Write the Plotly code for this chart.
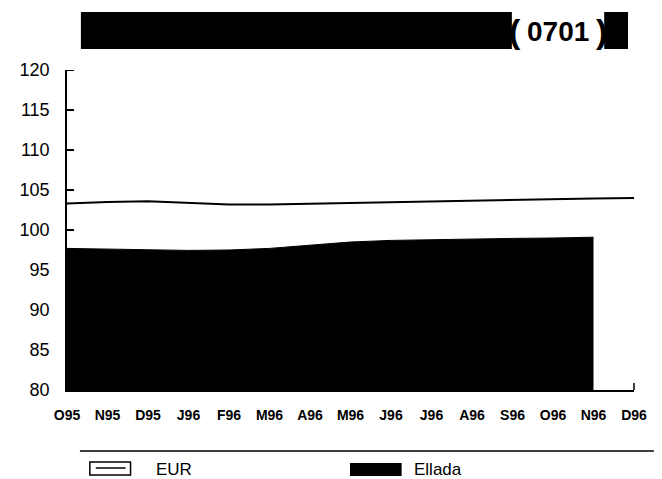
import plotly.graph_objects as go

months = ["O95", "N95", "D95", "J96", "F96", "M96", "A96", "M96",
          "J96", "J96", "A96", "S96", "O96", "N96", "D96"]
eur = [103.3, 103.5, 103.6, 103.4, 103.2, 103.2, 103.3, 103.4,
       103.5, 103.6, 103.7, 103.75, 103.85, 103.95, 104.0]
ellada = [97.7, 97.6, 97.5, 97.45, 97.5, 97.7, 98.1, 98.5,
          98.7, 98.8, 98.9, 98.95, 99.0, 99.1, None]
y_ticks = [80, 85, 90, 95, 100, 105, 110, 115, 120]
title_code = "0701"

PAGE_W, PAGE_H = 662, 479
OFF = 8  # browser body margin
W, H = PAGE_W - OFF, PAGE_H - OFF
L, R, T, B = 63, 634, 70, 390  # plot area in page pixels


def px(x):
    return (x - L) / (R - L)


def py(y):
    return (B - y) / (B - T)


xs = list(range(len(months)))

fig = go.Figure()
fig.add_trace(go.Scatter(
    x=[x for x, v in zip(xs, ellada) if v is not None],
    y=[v for v in ellada if v is not None],
    mode="lines", fill="tozeroy", fillcolor="black",
    line=dict(color="black", width=1), name="Ellada", showlegend=False))
fig.add_trace(go.Scatter(
    x=xs, y=eur, mode="lines", line=dict(color="black", width=2),
    name="EUR", showlegend=False))

shapes = []
# y-axis tick marks pointing into the plot
for v in y_ticks:
    shapes.append(dict(type="line", xref="paper", yref="y",
                       x0=0, x1=px(70), y0=v, y1=v, layer="above",
                       line=dict(color="black", width=2)))
# title bar
shapes.append(dict(type="rect", xref="paper", yref="paper",
                   x0=px(77), x1=px(511), y0=py(49), y1=py(12),
                   fillcolor="black", line=dict(width=0)))
shapes.append(dict(type="rect", xref="paper", yref="paper",
                   x0=px(604), x1=px(628), y0=py(49), y1=py(12),
                   fillcolor="black", line=dict(width=0)))
# small end tick on the x axis
shapes.append(dict(type="line", xref="paper", yref="paper",
                   x0=1, x1=1, y0=0, y1=py(383),
                   line=dict(color="black", width=1.5)))
# separator line
shapes.append(dict(type="line", xref="paper", yref="paper",
                   x0=px(76), x1=px(654), y0=py(451), y1=py(451),
                   line=dict(color="black", width=1.5)))
# legend symbols
shapes.append(dict(type="rect", xref="paper", yref="paper",
                   x0=px(86), x1=px(127), y0=py(475), y1=py(462),
                   fillcolor="white", line=dict(color="black", width=1.5)))
shapes.append(dict(type="line", xref="paper", yref="paper",
                   x0=px(92), x1=px(122), y0=py(468), y1=py(468),
                   line=dict(color="black", width=1.5)))
shapes.append(dict(type="rect", xref="paper", yref="paper",
                   x0=px(348), x1=px(400), y0=py(476), y1=py(463),
                   fillcolor="black", line=dict(width=0)))

annotations = [
    dict(text="<b>(</b>", xref="paper", yref="paper", x=px(514), y=py(31),
         showarrow=False, font=dict(size=34, color="black",
                                    family="Liberation Sans"),
         xanchor="center", yanchor="middle"),
    dict(text="<b>" + title_code + "</b>", xref="paper", yref="paper",
         x=px(557), y=py(31), showarrow=False,
         font=dict(size=28, color="black", family="Liberation Sans"),
         xanchor="center", yanchor="middle"),
    dict(text="<b>)</b>", xref="paper", yref="paper", x=px(601), y=py(31),
         showarrow=False, font=dict(size=34, color="black",
                                    family="Liberation Sans"),
         xanchor="center", yanchor="middle"),
    dict(text="EUR", xref="paper", yref="paper", x=px(151), y=py(469),
         showarrow=False, font=dict(size=17, color="black",
                                    family="Liberation Sans"),
         xanchor="left", yanchor="middle"),
    dict(text="Ellada", xref="paper", yref="paper", x=px(410), y=py(469),
         showarrow=False, font=dict(size=17, color="black",
                                    family="Liberation Sans"),
         xanchor="left", yanchor="middle"),
]

fig.update_layout(
    width=W, height=H,
    margin=dict(l=L - OFF, r=W - (R - OFF), t=T - OFF, b=H - (B - OFF),
                pad=0),
    paper_bgcolor="white", plot_bgcolor="white",
    showlegend=False,
    shapes=shapes, annotations=annotations,
    font=dict(family="Liberation Sans", color="black"),
    xaxis=dict(range=[0, 14], tickvals=xs, ticktext=months,
               showgrid=False, zeroline=False, showline=True,
               linecolor="black", linewidth=1.5, ticks="",
               tickfont=dict(size=14, family="Liberation Sans",
                             weight="bold"),
               ticklabelstandoff=11, fixedrange=True),
    yaxis=dict(range=[80, 120], tickvals=y_ticks,
               showgrid=False, zeroline=False, showline=True,
               linecolor="black", linewidth=1.5, ticks="",
               tickfont=dict(size=18, family="Liberation Sans"),
               ticklabelstandoff=12, fixedrange=True),
)

fig.write_html("out.html")
